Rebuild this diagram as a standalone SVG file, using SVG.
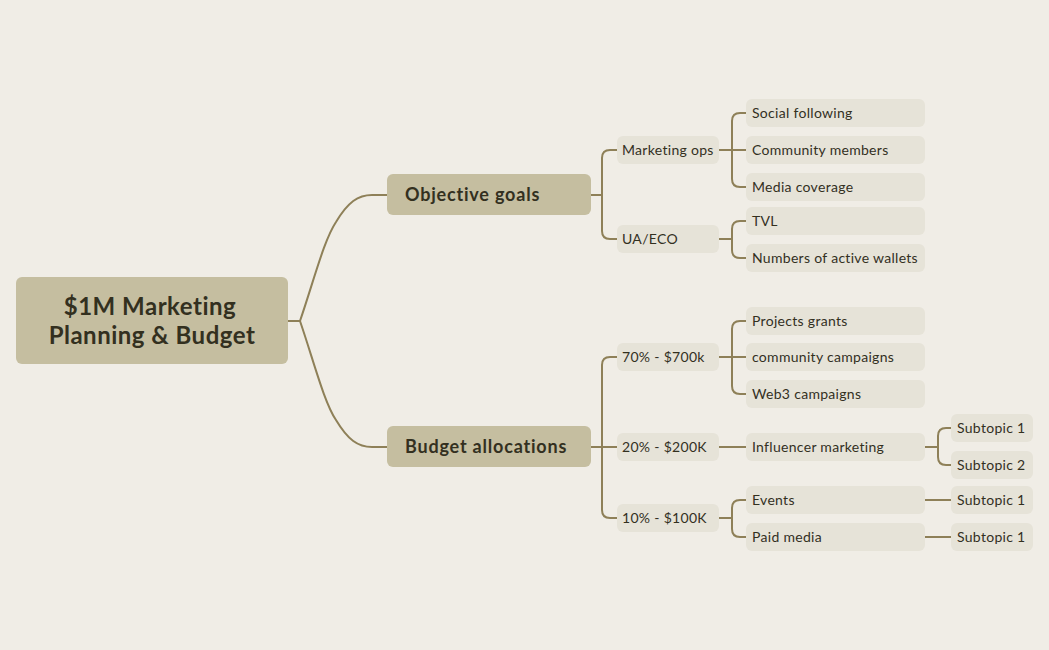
<svg xmlns="http://www.w3.org/2000/svg" width="1049" height="650" viewBox="0 0 1049 650">
<style>
.bg{fill:#f0ede6}
.main{fill:#c5bea0}
.sub{fill:#e6e3d8}
.ln{fill:none;stroke:#8e8058;stroke-width:2;stroke-linejoin:round}
text{font-family:Lato,"Liberation Sans",sans-serif;fill:#33301f}
.t0{font-size:24px;font-weight:bold;text-anchor:middle;letter-spacing:0.5px}
.t1{font-size:18px;font-weight:bold;letter-spacing:0.8px}
.t2{font-size:14px;letter-spacing:0.3px}
</style>
<rect class="bg" x="0" y="0" width="1049" height="650"/>
<g id="connectors">
<path class="ln" d="M288,321 L300,321 C314,280 324,240 336,222 C348,202 358,195 372,195 L388,195"/>
<path class="ln" d="M300,321 C314,362 324,402 336,420 C348,440 358,447 372,447 L388,447"/>
<path class="ln" d="M591,195 L602,195 M617,150 L610,150 Q602,150 602,158 L602,231 Q602,239 610,239 L617,239"/>
<path class="ln" d="M719,150 L746,150 M746,113 L740,113 Q732,113 732,121 L732,179 Q732,187 740,187 L746,187"/>
<path class="ln" d="M719,239 L732,239 M746,221 L740,221 Q732,221 732,229 L732,250 Q732,258 740,258 L746,258"/>
<path class="ln" d="M591,447 L617,447 M617,357 L610,357 Q602,357 602,365 L602,510 Q602,518 610,518 L617,518"/>
<path class="ln" d="M719,357 L746,357 M746,321 L740,321 Q732,321 732,329 L732,386 Q732,394 740,394 L746,394"/>
<path class="ln" d="M719,447 L746,447"/>
<path class="ln" d="M719,518 L732,518 M746,500 L740,500 Q732,500 732,508 L732,529 Q732,537 740,537 L746,537"/>
<path class="ln" d="M925,447 L938,447 M951,428 L946,428 Q938,428 938,436 L938,457 Q938,465 946,465 L951,465"/>
<path class="ln" d="M925,500 L951,500 M925,537 L951,537"/>
</g>
<g id="root"><rect class="main" x="16" y="277" width="272" height="87" rx="6"/><text class="t0" x="150" y="315">$1M Marketing</text><text class="t0" x="152" y="344">Planning &amp; Budget</text></g>
<g id="objective-goals"><rect class="main" x="387" y="174" width="204" height="41" rx="6"/><text class="t1" x="405" y="201">Objective goals</text></g>
<g id="budget-allocations"><rect class="main" x="387" y="426" width="204" height="41" rx="6"/><text class="t1" x="405" y="453">Budget allocations</text></g>
<g id="marketing-ops"><rect class="sub" x="617" y="136" width="102" height="28" rx="6"/><text class="t2" x="622" y="155">Marketing ops</text></g>
<g id="ua-eco"><rect class="sub" x="617" y="225" width="102" height="28" rx="6"/><text class="t2" x="622" y="244">UA/ECO</text></g>
<g id="social-following"><rect class="sub" x="746" y="99" width="179" height="28" rx="6"/><text class="t2" x="752" y="118">Social following</text></g>
<g id="community-members"><rect class="sub" x="746" y="136" width="179" height="28" rx="6"/><text class="t2" x="752" y="155">Community members</text></g>
<g id="media-coverage"><rect class="sub" x="746" y="173" width="179" height="28" rx="6"/><text class="t2" x="752" y="192">Media coverage</text></g>
<g id="tvl"><rect class="sub" x="746" y="207" width="179" height="28" rx="6"/><text class="t2" x="752" y="226">TVL</text></g>
<g id="active-wallets"><rect class="sub" x="746" y="244" width="179" height="28" rx="6"/><text class="t2" x="752" y="263">Numbers of active wallets</text></g>
<g id="pct70"><rect class="sub" x="617" y="343" width="102" height="28" rx="6"/><text class="t2" x="622" y="362">70% - $700k</text></g>
<g id="pct20"><rect class="sub" x="617" y="433" width="102" height="28" rx="6"/><text class="t2" x="622" y="452">20% - $200K</text></g>
<g id="pct10"><rect class="sub" x="617" y="504" width="102" height="28" rx="6"/><text class="t2" x="622" y="523">10% - $100K</text></g>
<g id="projects-grants"><rect class="sub" x="746" y="307" width="179" height="28" rx="6"/><text class="t2" x="752" y="326">Projects grants</text></g>
<g id="community-campaigns"><rect class="sub" x="746" y="343" width="179" height="28" rx="6"/><text class="t2" x="752" y="362">community campaigns</text></g>
<g id="web3-campaigns"><rect class="sub" x="746" y="380" width="179" height="28" rx="6"/><text class="t2" x="752" y="399">Web3 campaigns</text></g>
<g id="influencer-marketing"><rect class="sub" x="746" y="433" width="179" height="28" rx="6"/><text class="t2" x="752" y="452">Influencer marketing</text></g>
<g id="events"><rect class="sub" x="746" y="486" width="179" height="28" rx="6"/><text class="t2" x="752" y="505">Events</text></g>
<g id="paid-media"><rect class="sub" x="746" y="523" width="179" height="28" rx="6"/><text class="t2" x="752" y="542">Paid media</text></g>
<g id="infl-subtopic-1"><rect class="sub" x="951" y="414" width="82" height="28" rx="6"/><text class="t2" x="957" y="433">Subtopic 1</text></g>
<g id="infl-subtopic-2"><rect class="sub" x="951" y="451" width="82" height="28" rx="6"/><text class="t2" x="957" y="470">Subtopic 2</text></g>
<g id="events-subtopic-1"><rect class="sub" x="951" y="486" width="82" height="28" rx="6"/><text class="t2" x="957" y="505">Subtopic 1</text></g>
<g id="paid-subtopic-1"><rect class="sub" x="951" y="523" width="82" height="28" rx="6"/><text class="t2" x="957" y="542">Subtopic 1</text></g>
</svg>
